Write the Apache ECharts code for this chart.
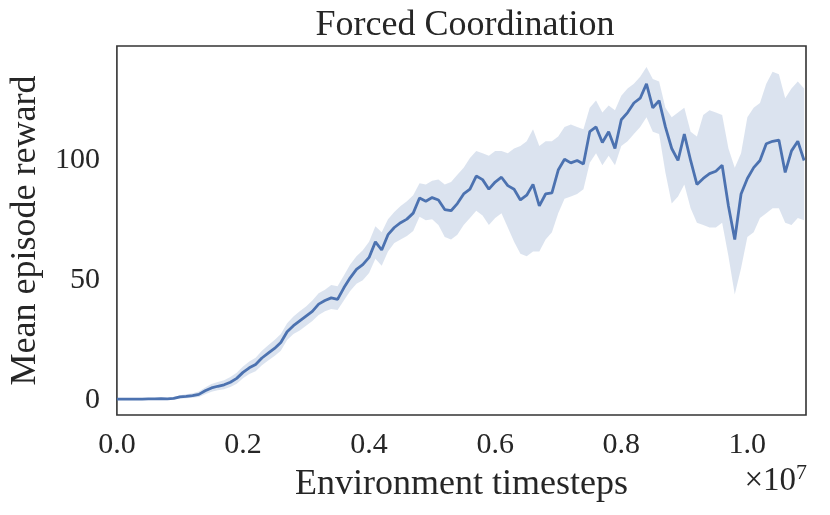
<!DOCTYPE html>
<html>
<head>
<meta charset="utf-8">
<script src="https://cdn.jsdelivr.net/npm/echarts@6/dist/echarts.min.js"></script>
<style>
html,body{margin:0;padding:0;background:#fff;}
#chart{width:830px;height:515px;}
</style>
</head>
<body>
<div id="chart"></div>
<script>
// timesteps in units of 1e7, sampled every 0.01
const xStep = 0.01;
const meanReward = [
0.3,0.3,0.3,0.3,0.3,0.4,0.4,0.5,0.4,0.6,
1.3,1.5,1.8,2.3,3.8,5.0,5.7,6.3,7.4,9.0,
11.5,13.4,14.8,17.5,19.5,21.5,24.0,28.5,31.0,33.0,
35.0,37.0,40.0,41.5,42.6,42.0,46.8,51.0,54.5,56.5,
59.5,66.0,62.6,69.0,72.0,74.0,75.5,78.0,84.3,83.0,
84.5,83.5,79.5,79.0,82.0,86.0,88.0,93.5,92.0,88.0,
91.0,93.0,89.5,88.0,83.5,85.5,90.0,81.0,86.0,86.5,
96.0,100.5,99.0,100.0,98.5,112.0,114.0,107.5,112.0,105.0,
117.0,120.0,124.0,126.0,132.0,122.0,125.0,114.0,105.0,100.0,
111.0,100.0,90.0,92.5,94.5,95.5,98.0,81.0,67.0,86.0,
92.5,97.0,100.0,107.0,108.0,108.5,95.0,104.0,108.0,100.0
];
const lowerReward = [
0,0,0,0,0,0.1,0.1,0.1,0.1,0.2,
0.6,0.7,0.9,1.2,2.4,3.4,4.0,4.5,5.4,6.8,
9.0,10.8,12.0,14.5,16.5,18.3,20.5,25.0,27.5,29.0,
31.0,33.0,35.5,37.0,38.0,37.5,41.5,45.5,48.5,50.0,
53.0,59.0,56.0,62.0,65.5,67.0,68.5,70.5,76.5,75.0,
75.5,73.0,68.0,67.0,69.0,73.0,76.0,79.0,77.0,73.0,
76.0,78.0,72.0,66.0,61.0,60.0,62.0,62.0,67.0,70.0,
78.0,84.0,85.0,86.0,88.0,99.0,103.0,98.0,102.0,98.0,
106.0,108.0,111.0,114.0,118.0,112.0,111.0,95.0,82.0,85.0,
90.0,80.0,74.0,73.0,72.0,72.0,74.0,60.0,44.0,55.0,
68.0,70.0,76.0,78.0,80.0,80.0,74.0,73.0,76.0,75.0
];
const upperReward = [
0.6,0.6,0.6,0.6,0.6,0.7,0.8,0.9,0.8,1.1,
2.0,2.4,2.8,3.5,5.2,6.6,7.5,8.2,9.6,11.3,
14.0,16.0,17.6,20.5,22.8,25.0,27.5,32.0,34.8,37.0,
39.0,41.5,44.5,46.0,48.0,47.5,52.0,56.5,60.0,62.5,
66.0,72.5,70.0,75.5,78.5,81.0,83.0,85.5,90.5,90.0,
91.5,92.0,90.0,91.0,94.0,97.0,101.0,104.0,103.0,102.0,
104.0,104.0,103.0,105.0,106.0,108.0,113.0,106.0,108.0,108.0,
110.0,114.0,115.0,114.0,113.0,122.0,125.0,120.0,123.0,121.0,
127.0,130.0,132.0,135.0,139.0,134.0,133.0,122.0,118.0,120.0,
122.0,112.0,110.0,119.0,121.0,120.0,119.0,105.0,97.0,103.0,
118.0,122.0,124.0,132.0,137.0,136.0,126.0,130.0,133.0,130.0
];
const xTickLabels = ['0.0','0.2','0.4','0.6','0.8','1.0'];
const yTickLabels = ['0','50','100'];

const FONT = '"Liberation Serif", "Times New Roman", serif';
const TXT = '#262626';
const LINE = '#4c72b0';

const xs = meanReward.map((v,i)=>+(i*xStep).toFixed(3));
const meanData = meanReward.map((v,i)=>[xs[i], v]);

const chart = echarts.init(document.getElementById('chart'), null, {renderer:'canvas'});
chart.setOption({
  animation: false,
  backgroundColor: '#fff',
  title: {
    text: 'Forced Coordination',
    left: 460, top: 3, textAlign: 'center',
    textStyle: {fontFamily: FONT, fontSize: 36, fontWeight: 'normal', color: TXT}
  },
  grid: {left: 115, right: 24, top: 46, bottom: 100, show: true,
         borderColor: '#333333', borderWidth: 1.6, backgroundColor: 'transparent'},
  xAxis: {
    type: 'value', min: 0, max: 1.093, interval: 0.2,
    name: 'Environment timesteps', nameLocation: 'middle', nameGap: 52,
    nameTextStyle: {fontFamily: FONT, fontSize: 36, color: TXT},
    axisLine: {show: false}, axisTick: {show: false}, splitLine: {show: false},
    axisLabel: {
      fontFamily: FONT, fontSize: 30, color: TXT, margin: 15,
      showMaxLabel: false,
      formatter: v => { const s = v.toFixed(1); return xTickLabels.includes(s) && Math.abs(v*5 - Math.round(v*5))<1e-6 ? s : ''; }
    }
  },
  yAxis: {
    type: 'value', min: -6.3, max: 147.8, splitNumber: 3,
    name: 'Mean episode reward', nameLocation: 'middle', nameGap: 70,
    nameTextStyle: {fontFamily: FONT, fontSize: 36, color: TXT},
    axisLine: {show: false}, axisTick: {show: false}, splitLine: {show: false},
    axisLabel: {
      fontFamily: FONT, fontSize: 30, color: TXT, margin: 17,
      showMinLabel: false, showMaxLabel: false,
      formatter: v => { const s = String(Math.round(v)); return (Math.abs(v - Math.round(v))<1e-6 && yTickLabels.includes(s)) ? s : ''; }
    }
  },
  graphic: [{
    type: 'text', right: 23, top: 462,
    style: {
      text: '×10{sup|7}', fontFamily: FONT, fontSize: 33, fill: TXT,
      rich: {sup: {fontFamily: FONT, fontSize: 22, fill: TXT, verticalAlign: 'top', padding: [0,0,16,0]}}
    }
  }],
  series: [
    {type: 'custom', silent: true, data: [[0]], clip: true,
     renderItem: function (params, api) {
       const pts = [];
       for (let i = 0; i < xs.length; i++) pts.push(api.coord([xs[i], upperReward[i]]));
       for (let i = xs.length - 1; i >= 0; i--) pts.push(api.coord([xs[i], lowerReward[i]]));
       return {type: 'polygon', shape: {points: pts},
               style: {fill: 'rgba(76,114,176,0.2)', stroke: 'none'}};
     }},
    {type: 'line', data: meanData, symbol: 'none', silent: true,
     lineStyle: {color: LINE, width: 2.8}}
  ]
});
</script>
</body>
</html>
